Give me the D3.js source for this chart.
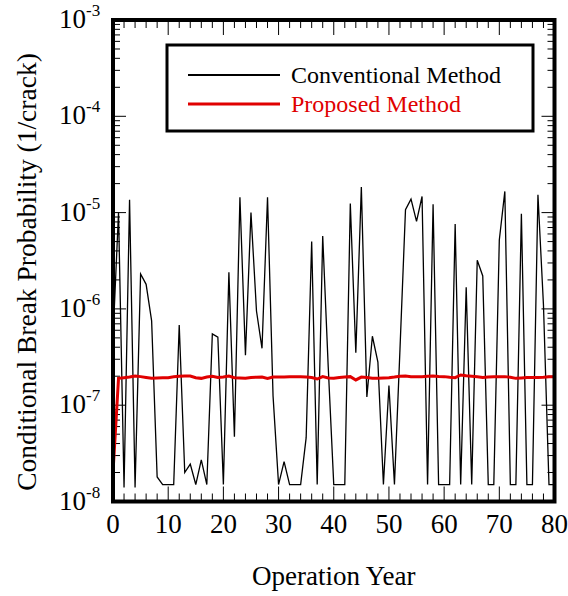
<!DOCTYPE html>
<html>
<head>
<meta charset="utf-8">
<script src="https://cdn.jsdelivr.net/npm/d3@7"></script>
<style>
  body { margin: 0; background: #fff; }
  svg text { font-family: "Liberation Serif", "Times New Roman", serif; }
</style>
</head>
<body>
<svg id="chart" width="568" height="596"></svg>
<script>
// operation years 0..80
const years = d3.range(0, 81);

// conventional method
const conventional = [
  5e-7, 1.0e-5, 1.4e-8, 1.36e-5, 1.4e-8, 2.3e-6, 1.8e-6, 7.5e-7, 1.8e-8, 1.5e-8,
  1.5e-8, 1.5e-8, 6.8e-7, 2.0e-8, 2.45e-8, 1.5e-8, 2.7e-8, 1.5e-8, 5.5e-7, 5.1e-7,
  1.5e-8, 2.4e-6, 4.7e-8, 1.44e-5, 3.3e-7, 1.0e-5, 9.5e-7, 3.9e-7, 1.44e-5, 1.25e-7,
  1.5e-8, 2.6e-8, 1.5e-8, 1.5e-8, 1.5e-8, 4.6e-8, 5.0e-6, 1.5e-8, 5.7e-6, 2.5e-7,
  1.5e-8, 1.5e-8, 1.5e-8, 1.24e-5, 3.5e-7, 1.84e-5, 1.22e-7, 5.2e-7, 2.8e-7, 1.5e-8,
  1.6e-7, 1.5e-8, 3.8e-7, 1.07e-5, 1.38e-5, 8.1e-6, 1.47e-5, 1.5e-8, 1.22e-5, 1.5e-8,
  1.5e-8, 1.5e-8, 7.6e-6, 1.5e-8, 1.68e-6, 1.5e-8, 3.2e-6, 2.2e-6, 1.5e-8, 1.5e-8,
  5.2e-6, 1.66e-5, 1.5e-8, 1.5e-8, 9.7e-6, 1.5e-8, 1.5e-8, 1.53e-5, 1.1e-6, 1.5e-8,
  1.5e-8
];

// proposed method
const proposed = [
  2.0e-8, 1.90e-7, 1.93e-7, 1.96e-7, 2.01e-7, 1.98e-7, 1.94e-7, 1.90e-7, 1.92e-7, 1.93e-7,
  1.93e-7, 1.97e-7, 2.00e-7, 2.01e-7, 2.01e-7, 1.93e-7, 1.90e-7, 1.96e-7, 2.00e-7, 1.94e-7,
  1.96e-7, 2.01e-7, 1.93e-7, 1.92e-7, 1.90e-7, 1.94e-7, 1.95e-7, 1.96e-7, 1.90e-7, 1.96e-7,
  1.96e-7, 1.96e-7, 1.97e-7, 1.98e-7, 1.97e-7, 1.96e-7, 1.94e-7, 1.87e-7, 1.98e-7, 1.92e-7,
  1.91e-7, 1.94e-7, 1.96e-7, 1.98e-7, 1.83e-7, 1.96e-7, 1.94e-7, 1.91e-7, 1.90e-7, 1.92e-7,
  1.93e-7, 1.96e-7, 2.00e-7, 2.01e-7, 1.98e-7, 1.98e-7, 1.98e-7, 2.00e-7, 2.01e-7, 1.99e-7,
  1.98e-7, 1.95e-7, 1.93e-7, 2.06e-7, 2.02e-7, 2.00e-7, 1.97e-7, 1.94e-7, 1.96e-7, 1.98e-7,
  1.98e-7, 1.98e-7, 1.95e-7, 1.90e-7, 1.92e-7, 1.94e-7, 1.94e-7, 1.94e-7, 1.95e-7, 1.97e-7,
  1.97e-7
];

const xTickLabels = [0, 10, 20, 30, 40, 50, 60, 70, 80];
const yDecades = [-8, -7, -6, -5, -4, -3];
const legendNames = ["Conventional Method", "Proposed Method"];
const colors = ["#000", "#e00000"];

const svg = d3.select("#chart");
const m = { left: 113, right: 554.5, top: 20, bottom: 501.5 };

const x = d3.scaleLinear().domain([0, 80]).range([m.left, m.right]);
const y = d3.scaleLog().domain([1e-8, 1e-3]).range([m.bottom, m.top]);

// ticks, all pointing inward on every side
const xMinor = d3.range(0, 81, 2).filter(d => d % 10 !== 0);
const yMinor = [];
yDecades.slice(0, -1).forEach(e => {
  for (let k = 2; k <= 9; k++) yMinor.push(k * Math.pow(10, e));
});

const ticks = svg.append("g").attr("stroke", "#000").attr("stroke-width", 1);
function xTick(v, len) {
  ticks.append("line").attr("x1", x(v)).attr("x2", x(v)).attr("y1", m.bottom).attr("y2", m.bottom - len);
  ticks.append("line").attr("x1", x(v)).attr("x2", x(v)).attr("y1", m.top).attr("y2", m.top + len);
}
function yTick(v, len) {
  ticks.append("line").attr("y1", y(v)).attr("y2", y(v)).attr("x1", m.left).attr("x2", m.left + len);
  ticks.append("line").attr("y1", y(v)).attr("y2", y(v)).attr("x1", m.right).attr("x2", m.right - len);
}
xMinor.forEach(v => xTick(v, 8));
xTickLabels.forEach(v => xTick(v, 15));
yMinor.forEach(v => yTick(v, 7));
yDecades.forEach(e => yTick(Math.pow(10, e), 13));

// series
const line = data => d3.line()
  .x((d, i) => x(years[i]))
  .y(d => y(d))(data);

svg.append("path")
  .attr("d", line(conventional))
  .attr("fill", "none")
  .attr("stroke", colors[0])
  .attr("stroke-width", 1.3);

svg.append("path")
  .attr("d", line(proposed))
  .attr("fill", "none")
  .attr("stroke", colors[1])
  .attr("stroke-width", 3);

// frame
svg.append("rect")
  .attr("x", m.left).attr("y", m.top)
  .attr("width", m.right - m.left).attr("height", m.bottom - m.top)
  .attr("fill", "none").attr("stroke", "#000").attr("stroke-width", 4);

// x tick labels
svg.append("g").selectAll("text")
  .data(xTickLabels)
  .join("text")
    .attr("x", d => x(d))
    .attr("y", 533)
    .attr("text-anchor", "middle")
    .attr("font-size", 27)
    .text(d => d);

// y tick labels 10^e
const yl = svg.append("g").selectAll("g")
  .data(yDecades)
  .join("g")
    .attr("transform", e => `translate(0,${y(Math.pow(10, e))})`);
yl.append("text")
  .attr("x", 86).attr("y", 8)
  .attr("text-anchor", "end")
  .attr("font-size", 27)
  .text("10");
yl.append("text")
  .attr("x", 86).attr("y", -4)
  .attr("font-size", 17)
  .text(e => "-" + Math.abs(e));

// axis titles
svg.append("text")
  .attr("x", (m.left + m.right) / 2)
  .attr("y", 585)
  .attr("text-anchor", "middle")
  .attr("font-size", 27)
  .text("Operation Year");

svg.append("text")
  .attr("transform", "translate(36,272) rotate(-90)")
  .attr("text-anchor", "middle")
  .attr("font-size", 27.5)
  .text("Conditional Break Probability (1/crack)");

// legend
const lg = svg.append("g");
lg.append("rect")
  .attr("x", 167).attr("y", 45).attr("width", 366).attr("height", 86)
  .attr("fill", "#fff").attr("stroke", "#000").attr("stroke-width", 3);
legendNames.forEach((name, i) => {
  const ly = 75 + i * 29;
  lg.append("line")
    .attr("x1", 188).attr("x2", 280).attr("y1", ly).attr("y2", ly)
    .attr("stroke", colors[i]).attr("stroke-width", i ? 3 : 2);
  lg.append("text")
    .attr("x", 291).attr("y", ly + 8)
    .attr("font-size", 24)
    .attr("fill", colors[i])
    .text(name);
});
</script>
</body>
</html>
